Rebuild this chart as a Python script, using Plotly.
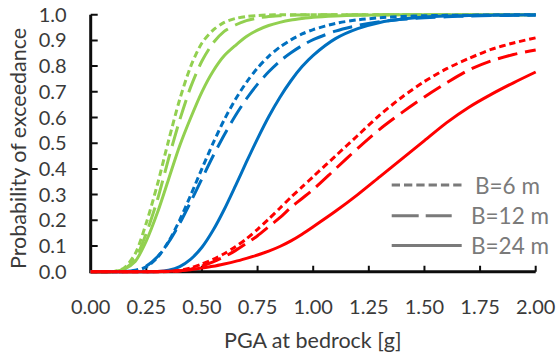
import plotly.graph_objects as go

# ---- data ----
pga = [0.0, 0.1, 0.15, 0.2, 0.25, 0.3, 0.35, 0.4, 0.45, 0.5, 0.55, 0.6, 0.65, 0.7, 0.75,
       0.8, 0.85, 0.9, 0.95, 1.0, 1.1, 1.2, 1.3, 1.4, 1.5, 1.6, 1.7, 1.8, 1.9, 2.0]

green_b6 = [0, 0, 0.015, 0.07, 0.19, 0.34, 0.51, 0.67, 0.80, 0.89, 0.94, 0.97, 0.985, 0.993, 0.997,
            0.999, 1, 1, 1, 1, 1, 1, 1, 1, 1, 1, 1, 1, 1, 1]
green_b12 = [0, 0, 0.01, 0.05, 0.15, 0.28, 0.44, 0.59, 0.72, 0.82, 0.89, 0.935, 0.96, 0.977, 0.987,
             0.993, 0.996, 0.998, 0.999, 1, 1, 1, 1, 1, 1, 1, 1, 1, 1, 1]
green_b24 = [0, 0, 0.01, 0.04, 0.12, 0.23, 0.36, 0.49, 0.60, 0.70, 0.78, 0.84, 0.88, 0.915, 0.94,
             0.958, 0.97, 0.979, 0.985, 0.99, 0.995, 0.998, 0.999, 1, 1, 1, 1, 1, 1, 1]

blue_b6 = [0, 0, 0.0003, 0.004, 0.019, 0.055, 0.117, 0.201, 0.299, 0.401, 0.5, 0.591, 0.67, 0.737, 0.793,
           0.838, 0.874, 0.902, 0.925, 0.942, 0.966, 0.98, 0.988, 0.993, 0.996, 0.9975, 0.998, 0.999, 1, 1]
blue_b12 = [0, 0, 0.0006, 0.0056, 0.022, 0.058, 0.115, 0.188, 0.273, 0.362, 0.45, 0.532, 0.607, 0.673, 0.73,
            0.778, 0.819, 0.852, 0.88, 0.903, 0.936, 0.958, 0.973, 0.982, 0.988, 0.992, 0.995, 0.9965, 0.9975, 0.998]
blue_b24 = [0, 0, 0, 0, 0, 0.001, 0.006, 0.02, 0.049, 0.095, 0.161, 0.242, 0.333, 0.427, 0.518,
            0.603, 0.678, 0.743, 0.798, 0.842, 0.907, 0.946, 0.97, 0.983, 0.991, 0.995, 0.997, 0.998, 0.999, 1]

red_b6 = [0, 0, 0, 0, 0, 0, 0.001, 0.005, 0.015, 0.03, 0.048, 0.07, 0.097, 0.128, 0.165,
          0.205, 0.247, 0.29, 0.33, 0.37, 0.45, 0.53, 0.61, 0.68, 0.74, 0.79, 0.83, 0.865, 0.89, 0.91]
red_b12 = [0, 0, 0, 0, 0, 0, 0.001, 0.003, 0.01, 0.022, 0.038, 0.058, 0.082, 0.11, 0.14,
           0.175, 0.21, 0.25, 0.285, 0.32, 0.40, 0.48, 0.555, 0.62, 0.68, 0.735, 0.785, 0.82, 0.845, 0.863]
red_b24 = [0, 0, 0, 0, 0, 0.001, 0.002, 0.004, 0.008, 0.014, 0.021, 0.03, 0.04, 0.052, 0.065,
           0.08, 0.098, 0.12, 0.146, 0.175, 0.235, 0.30, 0.37, 0.44, 0.51, 0.58, 0.64, 0.69, 0.735, 0.777]

x_ticks = [0.0, 0.25, 0.5, 0.75, 1.0, 1.25, 1.5, 1.75, 2.0]
x_ticklabels = ["0.00", "0.25", "0.50", "0.75", "1.00", "1.25", "1.50", "1.75", "2.00"]
y_ticks = [0.0, 0.1, 0.2, 0.3, 0.4, 0.5, 0.6, 0.7, 0.8, 0.9, 1.0]
y_ticklabels = ["0.0", "0.1", "0.2", "0.3", "0.4", "0.5", "0.6", "0.7", "0.8", "0.9", "1.0"]
legend_labels = ["B=6 m", "B=12 m", "B=24 m"]

# ---- styling ----
W, H = 558, 354
FONT = "Lato"
TXT = "#3a3a3a"
AXC = "#0d0d0d"
GREEN, BLUE, RED = "#92D050", "#0070C0", "#FF0000"
DASH6 = "6.5px,3.8px"
DASH12 = "20px,8px"
LW = 3

# plot area in px
L, R, T, B = 90.7, 535.7, 14.7, 271.7
pad_x, pad_y = 3.0, 4.0

def px_x(p):
    return p / W

def px_y(p):
    return 1 - p / H

xr = 2.0
yr = 1.0
ux = (R - L) / xr
uy = (B - T) / yr

fig = go.Figure()

# empty trace so the frame subplot (x, y) with the tick labels is drawn
fig.add_trace(go.Scatter(x=[None], y=[None], xaxis="x", yaxis="y", mode="lines",
                         hoverinfo="skip", showlegend=False))

# axis frame (L-shape) and inside tick marks, drawn on the curve axes below the curves
frame_x = [x_ticks[0], x_ticks[0], x_ticks[-1]]
frame_y = [y_ticks[-1], y_ticks[0], y_ticks[0]]
fig.add_trace(go.Scatter(x=frame_x, y=frame_y, mode="lines", xaxis="x2", yaxis="y2",
                         line=dict(color=AXC, width=3), hoverinfo="skip", showlegend=False))
tick_len_x = 7 / ux   # y-axis ticks, 7 px to the right
tick_len_y = 6 / uy   # x-axis ticks, 6 px upward
tx, ty = [], []
for v in x_ticks[1:]:
    tx += [v, v, None]
    ty += [y_ticks[0], y_ticks[0] + tick_len_y, None]
for v in y_ticks[1:]:
    tx += [x_ticks[0], x_ticks[0] + tick_len_x, None]
    ty += [v, v, None]
fig.add_trace(go.Scatter(x=tx, y=ty, mode="lines", xaxis="x2", yaxis="y2", connectgaps=False,
                         line=dict(color=AXC, width=2), hoverinfo="skip", showlegend=False))

series = [
    (green_b6, GREEN, DASH6), (green_b12, GREEN, DASH12), (green_b24, GREEN, "solid"),
    (blue_b6, BLUE, DASH6), (blue_b12, BLUE, DASH12), (blue_b24, BLUE, "solid"),
    (red_b6, RED, DASH6), (red_b12, RED, DASH12), (red_b24, RED, "solid"),
]
for vals, col, dash in series:
    fig.add_trace(go.Scatter(
        x=pga, y=vals, mode="lines", xaxis="x2", yaxis="y2",
        line=dict(color=col, width=LW, dash=dash, shape="spline", smoothing=0.8),
        hoverinfo="skip", showlegend=False,
    ))

axis_common = dict(
    showgrid=False, zeroline=False, showline=False, ticks="", automargin=False,
    tickfont=dict(family=FONT, size=20, color=TXT),
)

fig.update_layout(
    template="none",
    width=W, height=H,
    margin=dict(l=0, r=0, t=0, b=0, pad=0),
    paper_bgcolor="white", plot_bgcolor="rgba(0,0,0,0)",
    showlegend=False,
    xaxis=dict(domain=[px_x(L), px_x(R)], range=[0, xr], anchor="y",
               tickvals=x_ticks, ticktext=x_ticklabels, ticklabelstandoff=21, **axis_common),
    yaxis=dict(domain=[px_y(B), px_y(T)], range=[0, yr], anchor="x",
               tickvals=y_ticks, ticktext=y_ticklabels, ticklabelstandoff=23, **axis_common),
    xaxis2=dict(domain=[px_x(L - pad_x), px_x(R + pad_x)], automargin=False,
                range=[-pad_x / ux, xr + pad_x / ux], anchor="y2", visible=False),
    yaxis2=dict(domain=[px_y(B + pad_y), px_y(T - pad_y)], automargin=False,
                range=[-pad_y / uy, yr + pad_y / uy], anchor="x2", visible=False),
)

# axis titles
fig.add_annotation(text="PGA at bedrock [g]", xref="paper", yref="paper",
                   x=px_x((L + R) / 2), y=px_y(340), xanchor="center", yanchor="middle",
                   showarrow=False, font=dict(family=FONT, size=21.5, color=TXT))
fig.add_annotation(text="Probability of exceedance", xref="paper", yref="paper",
                   x=px_x(18), y=px_y(149), xanchor="center", yanchor="middle", textangle=-90,
                   showarrow=False, font=dict(family=FONT, size=21.5, color=TXT))

# legend (drawn manually to match the long sample lines)
LEG_COL = "#7a7a7a"
leg_rows = [(185, 461.7, "8.3px,4px", 473.3), (215.7, 451.7, "27px,7px", 469), (245.5, 461.7, "solid", 469)]
for (yy, x1, dash, tx_, lab) in [(r[0], r[1], r[2], r[3], l) for r, l in zip(leg_rows, legend_labels)]:
    fig.add_shape(type="line", xref="paper", yref="paper",
                  x0=px_x(391.7), x1=px_x(x1), y0=px_y(yy), y1=px_y(yy),
                  line=dict(color=LEG_COL, width=3, dash=dash))
    fig.add_annotation(text=lab, xref="paper", yref="paper", x=px_x(tx_), y=px_y(yy),
                       xanchor="left", yanchor="middle", showarrow=False,
                       font=dict(family=FONT, size=22.5, color=LEG_COL))

fig.write_html("out.html")
